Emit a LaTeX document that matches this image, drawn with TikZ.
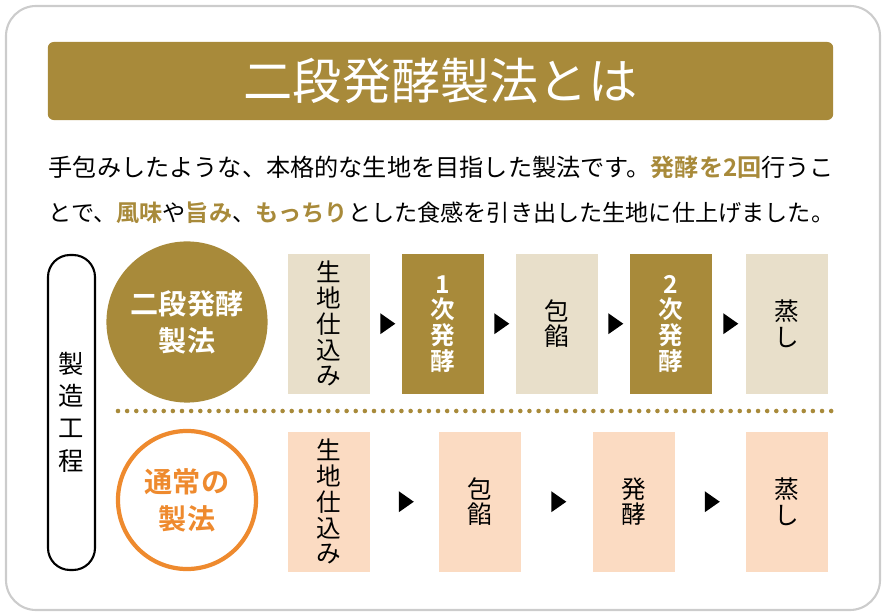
\documentclass[tikz,border=0pt]{standalone}
\usepackage{fontspec}
\setmainfont{Noto Sans CJK JP}[BoldFont={Noto Sans CJK JP Bold}]
\definecolor{gold}{HTML}{A88A3A}
\definecolor{beige}{HTML}{E8DFCA}
\definecolor{peach}{HTML}{FBDBC2}
\definecolor{orng}{HTML}{EE8A2E}
\usetikzlibrary{shapes.geometric,calc}
\tikzset{
  stepbox/.style={minimum width=0.82cm,minimum height=1.4cm,anchor=north west,inner sep=0pt,
    align=center,font=\fontsize{7}{7.3}\selectfont},
  lightbox/.style={stepbox,fill=beige},
  darkbox/.style={stepbox,fill=gold,text=white,font=\fontsize{7}{7.3}\selectfont\bfseries},
  peachbox/.style={stepbox,fill=peach},
  tri/.style={fill=black,isosceles triangle,isosceles triangle apex angle=70,inner sep=0pt,minimum width=0.16cm,minimum height=0.15cm}
}
\newcommand{\hi}[1]{\textcolor{gold}{\bfseries #1}}
\begin{document}
\begin{tikzpicture}[x=0.01cm,y=-0.01cm]
\useasboundingbox (0,0) rectangle (888,616);
\draw[gray!40,line width=0.6pt,rounded corners=0.3cm] (6,6) rectangle (880,610);
% title
\node[fill=gold,rounded corners=0.06cm,minimum width=7.85cm,minimum height=0.78cm,inner sep=0pt] (title) at (440.5,81) {};
\node[text=white,font=\fontsize{14}{16}\selectfont] (titletext) at (title) {二段発酵製法とは};
% text
\node[anchor=west,inner sep=0pt,font=\fontsize{7.4}{9}\selectfont] (line1) at (48,167) {\resizebox{7.85cm}{!}{手包みしたような、本格的な生地を目指した製法です。\hi{発酵を2回}行うこ}};
\node[anchor=west,inner sep=0pt,font=\fontsize{7.4}{9}\selectfont] (line2) at (48,213) {\resizebox{7.85cm}{!}{とで、\hi{風味}や\hi{旨み}、\hi{もっちり}とした食感を引き出した生地に仕上げました。}};
% left label
\draw[rounded corners=0.22cm,line width=0.6pt] (48,255) rectangle (95,570);
\node[align=center,font=\fontsize{7.2}{9.2}\selectfont] (proc) at (71.5,412) {製\\造\\工\\程};
% circles
\node[circle,fill=gold,minimum size=1.4cm,text=white,align=center,font=\fontsize{8}{10.5}\selectfont\bfseries] (twostep) at (187,322) {二段発酵\\製法};
\node[circle,draw=orng,line width=1.2pt,minimum size=1.36cm,text=orng,align=center,font=\fontsize{8}{10.5}\selectfont\bfseries] (normal) at (187,500) {通常の\\製法};
\draw[gold,line width=1.3pt,line cap=round,dash pattern=on 0pt off 2.6pt] (118,411) -- (833,411);
% row 1
\node[lightbox] (a1) at (287,253) {生\\地\\仕\\込\\み};
\node[darkbox] (a2) at (401,253) {1\\次\\発\\酵};
\node[lightbox] (a3) at (515,253) {包\\餡};
\node[darkbox] (a4) at (629,253) {2\\次\\発\\酵};
\node[lightbox] (a5) at (745,253) {蒸\\し};
\foreach \i/\j in {a1/a2,a2/a3,a3/a4,a4/a5}
  \node[tri] at ($(\i.east)!0.5!(\j.west)$) {};
% row 2
\node[peachbox] (b1) at (287,431) {生\\地\\仕\\込\\み};
\node[peachbox] (b2) at (438,431) {包\\餡};
\node[peachbox] (b3) at (592,431) {発\\酵};
\node[peachbox] (b4) at (745,431) {蒸\\し};
\foreach \i/\j in {b1/b2,b2/b3,b3/b4}
  \node[tri] at ($(\i.east)!0.5!(\j.west)$) {};
\end{tikzpicture}
\end{document}
